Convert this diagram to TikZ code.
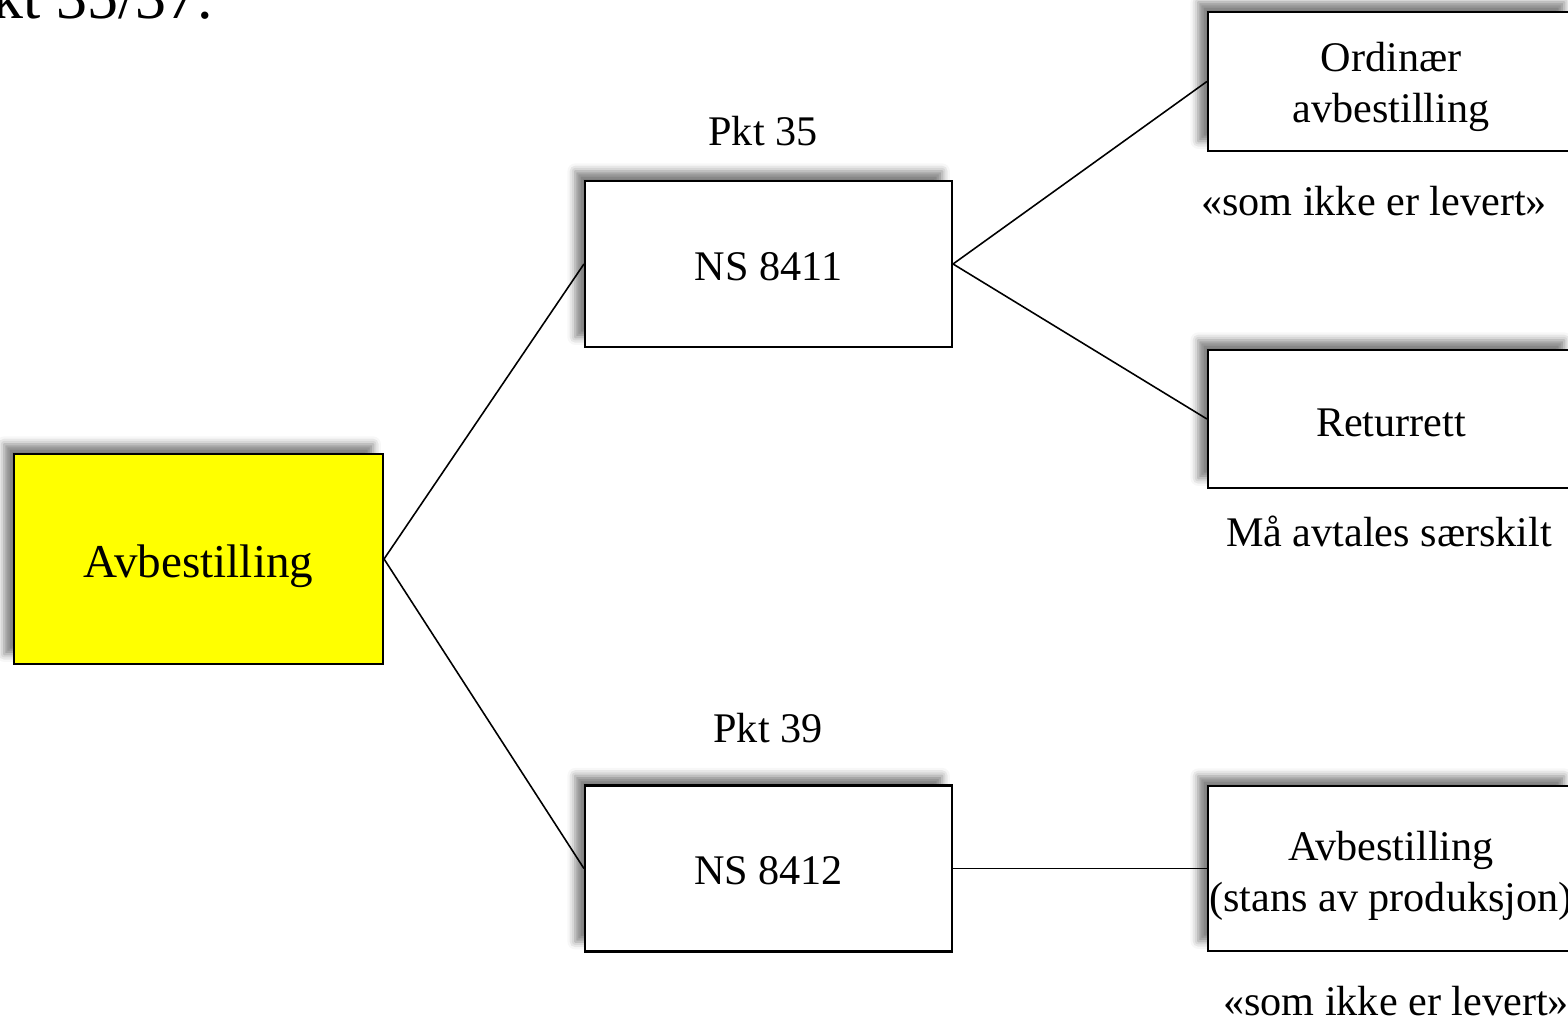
\documentclass[tikz,border=0pt]{standalone}
\usepackage{fontspec}
\setmainfont{Liberation Serif}
\usetikzlibrary{shadows.blur}
\definecolor{yel}{RGB}{255,255,0}
\begin{document}
\begin{tikzpicture}[x=0.01cm,y=-0.01cm,
  box/.style={draw=black,line width=0.6pt,fill=white,minimum width=367*0.01cm,minimum height=166*0.01cm,inner sep=0pt,
    blur shadow={shadow xshift=-2.8pt,shadow yshift=2.8pt,shadow blur radius=2.2pt,shadow opacity=50}},
  txt/.style={inner sep=0pt,align=center,font=\fontsize{12pt}{14.5pt}\selectfont},
  lbl/.style={inner sep=0pt,font=\fontsize{12pt}{14.5pt}\selectfont},
  conn/.style={line width=0.45pt}]
\useasboundingbox (0,0) rectangle (1568,1022);
\node[anchor=base west,inner sep=0pt,font=\fontsize{17.6pt}{20pt}\selectfont] (title) at (-8,19) {kt 35/37.};
\node[box,fill=yel,minimum width=369*0.01cm,minimum height=210*0.01cm,
  label={[txt,font=\fontsize{13.4pt}{16pt}\selectfont,yshift=-0.7mm]center:Avbestilling}] (avb) at (198.5,559) {};
\node[box,label={[txt,yshift=-0.3mm]center:NS 8411}] (ns1) at (768.5,264) {};
\node[box,label={[txt,yshift=-0.2mm]center:NS 8412}] (ns2) at (768.5,868.5) {};
\node[box,minimum width=366*0.01cm,minimum height=139*0.01cm,
  label={[txt,yshift=-0.5mm]center:{Ordinær\\avbestilling}}] (ord) at (1391,81.5) {};
\node[box,minimum width=366*0.01cm,minimum height=138*0.01cm,
  label={[txt,yshift=-0.4mm]center:Returrett}] (ret) at (1391,419) {};
\node[box,minimum width=366*0.01cm,minimum height=165*0.01cm,
  label={[txt,yshift=-0.7mm]center:{Avbestilling\\(stans av produksjon)}}] (stans) at (1391,868.5) {};
\node[lbl] (p35) at (763,131) {Pkt 35};
\node[lbl] (p39) at (768,728) {Pkt 39};
\node[lbl] (l1) at (1374,201) {«som ikke er levert»};
\node[lbl] (l2) at (1389,531) {Må avtales særskilt};
\node[lbl] (l3) at (1396,1001) {«som ikke er levert»};
\draw[conn] (avb.east) -- (ns1.west);
\draw[conn] (avb.east) -- (ns2.west);
\draw[conn] (ns1.east) -- (ord.west);
\draw[conn] (ns1.east) -- (ret.west);
\draw[conn] (ns2.east) -- (stans.west);
\end{tikzpicture}
\end{document}
